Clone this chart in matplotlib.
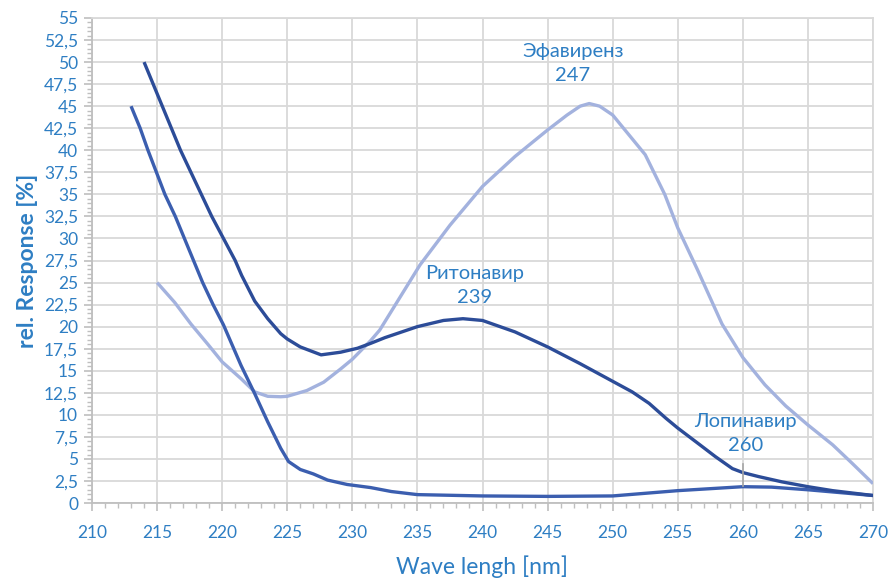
import matplotlib
matplotlib.use("Agg")
import matplotlib.pyplot as plt
from matplotlib.ticker import MultipleLocator, FuncFormatter

# ---- data ----
rit_x = [214.0, 214.7, 215.4, 216.1, 216.8, 217.6, 218.4, 219.2, 220.1, 221.0, 221.5, 222.5,
         223.5, 224.5, 225.0, 226.0, 227.6, 229.1, 230.4, 231.4, 232.5, 235.0, 237.0, 238.5,
         240.0, 242.5, 245.0, 247.5, 250.0, 251.5, 252.8, 254.1, 255.0, 256.7, 257.9, 259.2,
         260.0, 261.2, 263.0, 265.0, 266.9, 270.0]
rit_y = [50, 47.5, 45, 42.5, 40, 37.5, 35, 32.5, 30, 27.5, 25.8, 22.9,
         20.9, 19.2, 18.6, 17.7, 16.8, 17.1, 17.55, 18.1, 18.75, 20.0, 20.7, 20.9,
         20.7, 19.4, 17.7, 15.8, 13.8, 12.6, 11.3, 9.6, 8.5, 6.6, 5.25, 3.9,
         3.45, 3.0, 2.4, 1.85, 1.4, 0.85]

lop_x = [213.0, 213.7, 214.3, 214.95, 215.6, 216.4, 217.1, 217.8, 218.5, 219.3, 220.1, 221.45,
         222.5, 223.5, 224.5, 225.1, 226.0, 227.0, 228.1, 229.6, 231.4, 233.0, 235.0, 240.0,
         245.0, 250.0, 255.0, 260.0, 262.2, 265.0, 270.0]
lop_y = [45, 42.5, 40, 37.5, 35, 32.5, 30, 27.5, 25, 22.5, 20.2, 15.6,
         12.4, 9.2, 6.2, 4.7, 3.8, 3.3, 2.6, 2.1, 1.75, 1.3, 0.95, 0.8,
         0.75, 0.8, 1.4, 1.85, 1.8, 1.5, 0.85]

efa_x = [215.0, 216.35, 217.6, 218.9, 220.0, 221.45, 222.5, 223.5, 224.5, 225.0, 226.5, 227.8,
         229.1, 230.0, 231.4, 232.1, 235.2, 237.5, 240.0, 242.5, 245.0, 246.5, 247.5, 248.2,
         249.0, 250.0, 251.0, 252.5, 254.0, 255.0, 256.5, 258.4, 260.0, 261.7, 263.3, 265.0,
         266.9, 268.4, 270.0]
efa_y = [25, 22.75, 20.3, 18.0, 16.0, 14.1, 12.6, 12.1, 12.05, 12.1, 12.75, 13.7,
         15.2, 16.3, 18.4, 19.6, 27.0, 31.5, 35.9, 39.3, 42.3, 44.0, 45.0, 45.3,
         45.0, 44.0, 42.2, 39.5, 35.0, 31.2, 26.5, 20.3, 16.5, 13.4, 11.0, 8.85,
         6.6, 4.5, 2.2]

labels = ["Ритонавир\n239", "Эфавиренз\n247", "Лопинавир\n260"]
label_pos = [(239.4, 24.7), (246.95, 49.85), (260.2, 7.9)]
leader_x = [260, 260]
leader_y = [1.9, 4.4]

x_label = "Wave lengh [nm]"
y_label = "rel. Response [%]"

# ---- style ----
txt_col = "#2E7EC3"
grid_col = "#D9D9D9"
plt.rcParams['font.family'] = ['Lato', 'DejaVu Sans']

fig = plt.figure(figsize=(8.91, 5.79), dpi=100)
ax = fig.add_axes([92/891, 1-503/579, (873-92)/891, (503-18)/579])

kw = dict(lw=2.4, solid_capstyle='butt', solid_joinstyle='round')
ax.plot(efa_x, efa_y, color="#A3B2DE", zorder=3, **kw)
ax.plot(lop_x, lop_y, color="#3B5EAF", zorder=4, **kw)
ax.plot(rit_x, rit_y, color="#2C4C98", zorder=5, **kw)
ax.plot(leader_x, leader_y, color="#A6A6A6", lw=1.2, zorder=6)

for t, (px, py) in zip(labels, label_pos):
    ax.text(px, py, t, color=txt_col, fontsize=14.5, ha='center', va='center',
            linespacing=1.5, zorder=7)

ax.set_xlim(210, 270)
ax.set_ylim(0, 55)
ax.xaxis.set_major_locator(MultipleLocator(5))
ax.xaxis.set_minor_locator(MultipleLocator(1))
ax.yaxis.set_major_locator(MultipleLocator(2.5))
ax.yaxis.set_minor_locator(MultipleLocator(0.5))

def yfmt(v, pos):
    return ("%g" % v).replace(".", ",")
ax.yaxis.set_major_formatter(FuncFormatter(yfmt))

ax.grid(True, which='major', color=grid_col, lw=1.3, zorder=0)
ax.set_axisbelow(True)
for s in ['top', 'right']:
    ax.spines[s].set_color(grid_col)
    ax.spines[s].set_linewidth(1.3)
for s in ['left', 'bottom']:
    ax.spines[s].set_color("#BFBFBF")
    ax.spines[s].set_linewidth(1.3)

ax.tick_params(which='major', direction='out', length=6, width=1.2, color="#BFBFBF",
               labelcolor=txt_col, labelsize=12.5, pad=4)
ax.tick_params(which='minor', direction='out', length=3.5, width=1.0, color="#BFBFBF")
ax.tick_params(axis='x', which='major', pad=10)

ax.set_xlabel(x_label, color=txt_col, fontsize=16.5, labelpad=10)
ax.set_ylabel(y_label, color=txt_col, fontsize=16.5, fontweight='bold', labelpad=4)

fig.savefig("out.png", dpi=100)
